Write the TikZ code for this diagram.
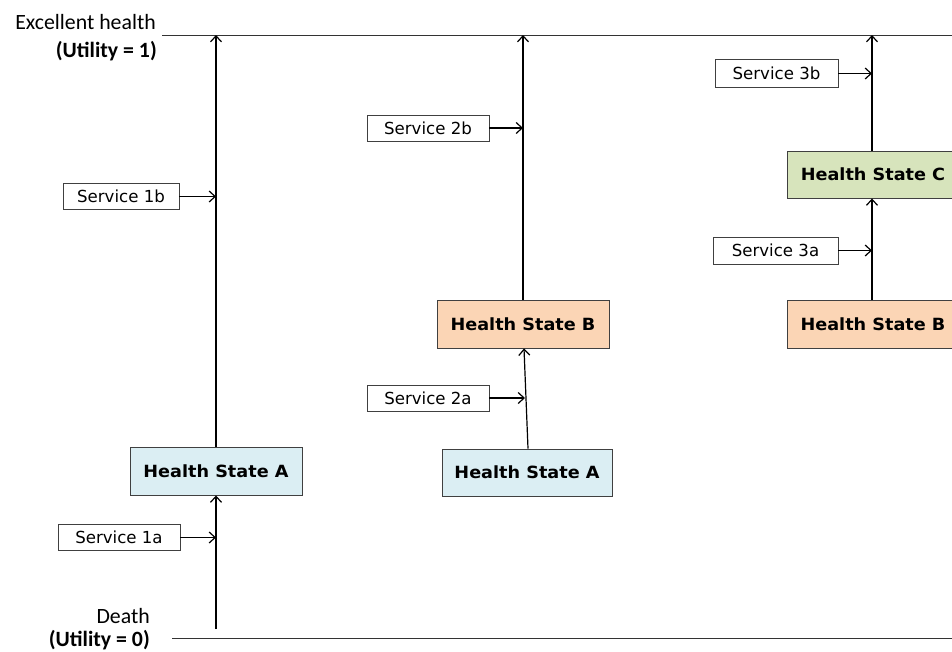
\documentclass[tikz,border=0pt]{standalone}
\usepackage{fontspec}
\setmainfont{DejaVu Sans}[BoldFeatures={FakeStretch=1.05}]
\newfontfamily\calfont{Carlito}
\usetikzlibrary{arrows.meta}
\definecolor{hsA}{HTML}{DBEEF3}
\definecolor{hsB}{HTML}{FBD5B5}
\definecolor{hsC}{HTML}{D7E4BC}
\definecolor{edgegrey}{HTML}{404040}
\tikzset{
  statebox/.style={draw=edgegrey, line width=0.9pt, minimum width=172pt, minimum height=48pt, inner sep=0pt,
    font=\fontsize{16.8}{19}\selectfont\bfseries},
  servbox/.style={draw=edgegrey, line width=0.9pt, fill=white, minimum height=26pt, inner sep=0pt,
    font=\fontsize{16.6}{19}\selectfont},
  flow/.style={line width=1.2pt, -{Straight Barb[length=6pt,width=11pt,line width=1.2pt]}},
  axisline/.style={line width=1pt, draw=black!80},
  lbl/.style={inner sep=0pt, anchor=base east, font=\calfont\fontsize{21.8}{24}\selectfont},
  blbl/.style={lbl, font=\calfont\fontsize{21.8}{24}\selectfont\bfseries}
}
\begin{document}
\begin{tikzpicture}[x=1pt,y=-1pt]
\useasboundingbox (0,0) rectangle (952,651);
% axis lines
\coordinate (topL) at (162,35);
\coordinate (topR) at (960,35);
\coordinate (botL) at (172,638);
\coordinate (botR) at (960,638);
\draw[axisline] (topL) -- (topR);
\draw[axisline] (botL) -- (botR);
\node[lbl] (exc) at (156,29.5) {Excellent health};
\node[blbl] (u1) at (157,57) {(Utility = 1)};
\node[lbl] (death) at (150,623.5) {Death};
\node[blbl] (u0) at (150,646) {(Utility = 0)};

% column 1
\node[statebox, fill=hsA] (a1) at (216,471) {Health State A};
\node[servbox, minimum width=122pt] (s1a) at (119,537.5) {Service 1a};
\node[servbox, minimum width=116pt] (s1b) at (121,196.5) {Service 1b};
\coordinate (c1bot) at (216,629);
\coordinate (c1top) at (216,35);
\draw[flow] (c1bot) -- (a1.south);
\draw[flow] (a1.north) -- (c1top);
\coordinate (c1a) at (216,537.5);
\coordinate (c1b) at (216,196.5);
\draw[flow] (s1a.east) -- (c1a);
\draw[flow] (s1b.east) -- (c1b);

% column 2
\node[statebox, fill=hsA, minimum width=170pt, minimum height=47pt] (a2) at (527,472.5) {Health State A};
\node[statebox, fill=hsB] (b2) at (523,324) {Health State B};
\node[servbox, minimum width=122pt] (s2a) at (428,398) {Service 2a};
\node[servbox, minimum width=122pt] (s2b) at (428,128) {Service 2b};
\coordinate (c2top) at (523,35);
\draw[flow] ([xshift=1pt]a2.north) -- ([xshift=1pt]b2.south);
\draw[flow] (b2.north) -- (c2top);
\coordinate (c2a) at (525,398);
\coordinate (c2b) at (523,128);
\draw[flow] (s2a.east) -- (c2a);
\draw[flow] (s2b.east) -- (c2b);

% column 3
\node[statebox, fill=hsB] (b3) at (873,324) {Health State B};
\node[statebox, fill=hsC, minimum height=47pt] (c3) at (873,174.5) {Health State C};
\node[servbox, minimum width=125pt, minimum height=27pt] (s3a) at (775.5,250.5) {Service 3a};
\node[servbox, minimum width=123pt, minimum height=28pt] (s3b) at (776.5,73.5) {Service 3b};
\coordinate (c3top) at (872,35);
\draw[flow] ([xshift=-1pt]b3.north) -- ([xshift=-1pt]c3.south);
\draw[flow] ([xshift=-1pt]c3.north) -- (c3top);
\coordinate (c3a) at (872,250.5);
\coordinate (c3b) at (872,73.5);
\draw[flow] (s3a.east) -- (c3a);
\draw[flow] (s3b.east) -- (c3b);
\end{tikzpicture}
\end{document}
